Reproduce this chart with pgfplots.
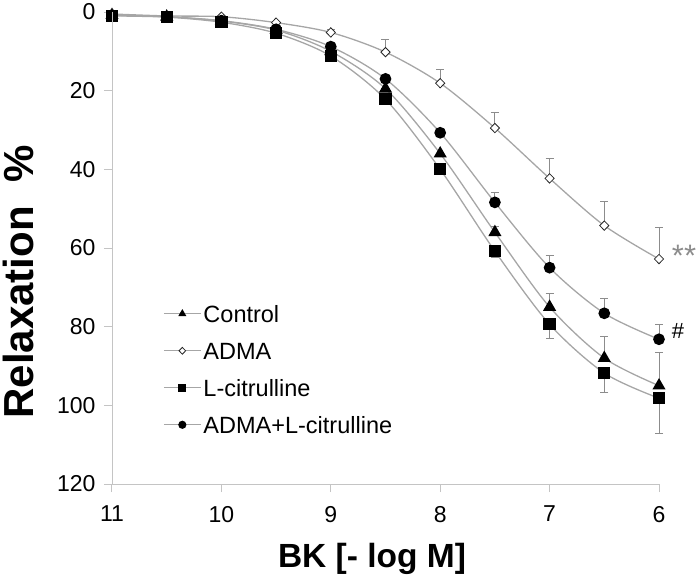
\documentclass[border=0pt]{standalone}
\usepackage{fontspec}
\setmainfont{Liberation Sans}
\usepackage{pgfplots}
\pgfplotsset{compat=1.18}
\definecolor{lineg}{HTML}{A6A6A6}
\definecolor{axg}{HTML}{C4C4C4}
\definecolor{errg}{HTML}{8C8C8C}
\begin{document}
\begin{tikzpicture}
\path[use as bounding box] (-112pt,-95pt) rectangle (588pt,484pt);
\begin{axis}[
  at={(0pt,0pt)}, anchor=south west,
  scale only axis, width=547pt, height=472pt,
  xmin=6, xmax=11, ymin=0, ymax=120,
  x dir=reverse, y dir=reverse,
  xtick={6,7,8,9,10,11}, ytick={0,20,40,60,80,100,120},
  axis line style={draw=none},
  xtick pos=left, ytick pos=left,
  tick align=outside, major tick length=8pt,
  tick style={axg, line width=1pt},
  /pgf/number format/assume math mode=true,
  ticklabel style={font=\fontsize{23}{27}\selectfont},
  xticklabel style={yshift=-10.5pt},
  yticklabel style={xshift=-5pt},
  clip=false,
  legend cell align=left,
  legend image code/.code={\draw[mark repeat=2,mark phase=2,#1] plot coordinates {(0pt,0pt) (18.5pt,0pt) (37pt,0pt)};},
  legend image post style={mark size=3.4pt},
  legend style={draw=none, fill=none, inner sep=0pt, font=\fontsize{23.5}{28}\selectfont,
    at={(axis cs:10.534,74)}, anchor=north west, row sep=16pt,
    nodes={inner sep=2pt, text height=17pt, text depth=0pt}},
  every axis plot/.append style={smooth, lineg, line width=1.3pt},
  error bars/error bar style={errg, line width=1pt},
  error bars/error mark options={rotate=90, errg, mark size=4pt, line width=1pt},
]
% Control
\addplot[mark=triangle*, mark size=6.3pt, mark options={black, fill=black},
  error bars/.cd, y dir=minus, y explicit] table[x=x, y=y, y error=e] {
x y e
11 0.8 0
10.5 1.2 0
10 2.3 0
9.5 4.6 0
9 10.0 0
8.5 19.5 0
8 36.0 0
7.5 56.0 1.5
7 75.0 3.5
6.5 88.0 5.6
6 95.0 8.5
};
\addlegendentry{Control}
% ADMA
\addplot[mark=diamond*, mark size=4.7pt, mark options={black!85, fill=white, line width=0.8pt, xscale=1.3},
  error bars/.cd, y dir=minus, y explicit] table[x=x, y=y, y error=e] {
x y e
11 0.5 0
10.5 1.0 0
10 1.2 0
9.5 2.7 0
9 5.2 0.8
8.5 10.2 3.3
8 18.1 3.6
7.5 29.5 4.0
7 42.3 5.0
6.5 54.3 6.0
6 62.8 8.0
};
\addlegendentry{ADMA}
% L-citrulline
\addplot[mark=square*, mark size=5.5pt, mark options={black, fill=black},
  error bars/.cd, y dir=plus, y explicit] table[x=x, y=y, y error=e] {
x y e
11 1.0 0
10.5 1.3 0
10 2.6 0
9.5 5.4 0
9 11.2 0
8.5 22.2 0
8 40.0 0
7.5 60.8 1.5
7 79.4 3.6
6.5 91.8 5.0
6 98.2 9.0
};
\addlegendentry{L-citrulline}
% ADMA + L-citrulline
\addplot[mark=*, mark size=5.2pt, mark options={black, fill=black},
  error bars/.cd, y dir=minus, y explicit] table[x=x, y=y, y error=e] {
x y e
11 0.8 0
10.5 1.2 0
10 2.2 0
9.5 4.4 0
9 8.8 0
8.5 17.0 0
8 30.7 0
7.5 48.4 2.4
7 65.0 3.0
6.5 76.6 3.8
6 83.2 3.8
};
\addlegendentry{ADMA+L-citrulline}
\node[font=\fontsize{31}{36}\selectfont, errg, anchor=base] at (axis cs:5.771,64.6) {**};
\node[font=\fontsize{22}{26}\selectfont, anchor=base] at (axis cs:5.826,83.1) {\#};
\end{axis}
\draw[axg, line width=1pt] (0pt,472pt) -- (0pt,0pt) -- (547pt,0pt);
\node[font=\fontsize{33.5}{40}\selectfont\bfseries, anchor=base] at (260pt,-83pt) {BK [- log M]};
\node[font=\fontsize{42}{48}\selectfont\bfseries, rotate=90, anchor=base] at (-78pt,202pt) {Relaxation\hspace{0.55em}\%};
\end{tikzpicture}
\end{document}
